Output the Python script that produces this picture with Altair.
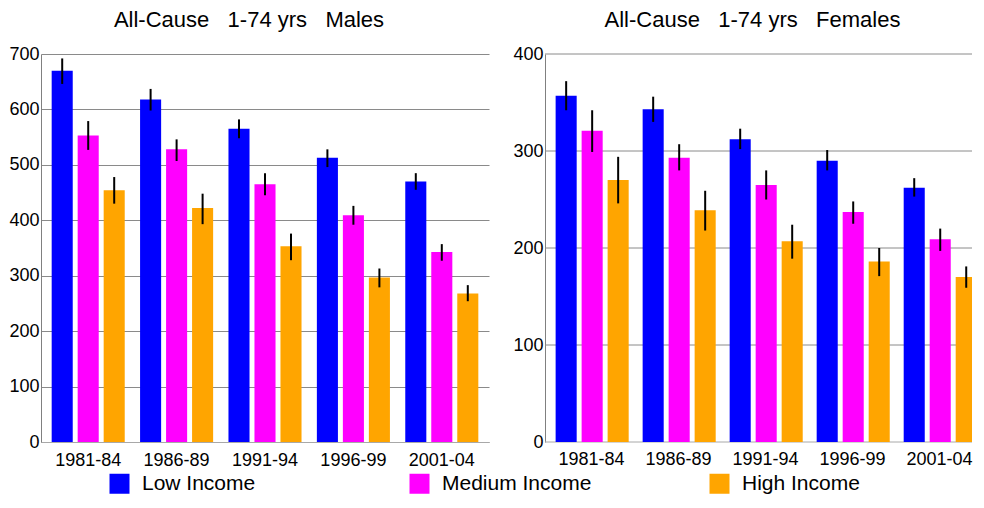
import altair as alt
import pandas as pd

periods = ["1981-84", "1986-89", "1991-94", "1996-99", "2001-04"]
incomes = ["Low Income", "Medium Income", "High Income"]
colors = ["#0000FF", "#FF00FF", "#FFA500"]

# Males (rate, lower CI, upper CI)
male_low = [670, 618, 565, 513, 470]
male_low_lo = [646, 598, 548, 496, 455]
male_low_hi = [692, 637, 582, 528, 485]
male_med = [553, 528, 465, 409, 343]
male_med_lo = [527, 507, 445, 392, 327]
male_med_hi = [579, 546, 485, 426, 357]
male_high = [454, 422, 353, 297, 268]
male_high_lo = [430, 393, 328, 279, 254]
male_high_hi = [478, 448, 376, 313, 283]

# Females (rate, lower CI, upper CI)
female_low = [357, 343, 312, 290, 262]
female_low_lo = [342, 330, 302, 280, 253]
female_low_hi = [372, 356, 323, 301, 272]
female_med = [321, 293, 265, 237, 209]
female_med_lo = [299, 280, 250, 225, 197]
female_med_hi = [342, 307, 280, 248, 220]
female_high = [270, 239, 207, 186, 170]
female_high_lo = [246, 218, 189, 171, 159]
female_high_hi = [294, 259, 224, 200, 181]

# y tick values
male_ticks = [0, 100, 200, 300, 400, 500, 600, 700]
female_ticks = [0, 100, 200, 300, 400]

FONT = "Liberation Sans"
SP = "\u00a0\u00a0\u00a0"
GRID = "#8a8a8a"
XDOMAIN = "#a8a8a8"


def make_df(series):
    rows = []
    for inc, (vals, los, his) in zip(incomes, series):
        for p, v, lo, hi in zip(periods, vals, los, his):
            rows.append({"period": p, "income": inc, "rate": v, "lo": lo, "hi": hi})
    return pd.DataFrame(rows)


males = make_df([(male_low, male_low_lo, male_low_hi),
                 (male_med, male_med_lo, male_med_hi),
                 (male_high, male_high_lo, male_high_hi)])
females = make_df([(female_low, female_low_lo, female_low_hi),
                   (female_med, female_med_lo, female_med_hi),
                   (female_high, female_high_lo, female_high_hi)])


def panel(df, title, ticks, width, xrange, title_dx, own_axes):
    ymax = ticks[-1]
    xscale = alt.Scale(paddingInner=0, paddingOuter=0.034, range=[0, xrange])
    if own_axes:
        xaxis = None
    else:
        xaxis = alt.Axis(labelAngle=0, ticks=False, labelPadding=9,
                         labelFontSize=18, labelFont=FONT, labelColor="#000",
                         domainColor=XDOMAIN, grid=False)

    def xenc():
        return alt.X("period:N", sort=periods, title=None, scale=xscale, axis=xaxis)

    xo = alt.XOffset("income:N", sort=incomes,
                     scale=alt.Scale(paddingInner=0.19, paddingOuter=0.295))
    yaxis = alt.Axis(values=ticks, ticks=False, title=None,
                     labelPadding=2, labelFontSize=18, labelFont=FONT,
                     labelColor="#000", domainColor="#808080",
                     grid=not own_axes, gridColor=GRID, gridWidth=1)
    yscale = alt.Scale(domain=[0, ymax], nice=False)
    y = alt.Y("rate:Q", title=None, scale=yscale, axis=yaxis)
    bars = alt.Chart(df).mark_bar(clip=True).encode(
        x=xenc(), xOffset=xo, y=y,
        color=alt.Color("income:N", sort=incomes,
                        scale=alt.Scale(domain=incomes, range=colors),
                        legend=alt.Legend(title=None, orient="none",
                                          direction="horizontal", columns=3,
                                          gridAlign="all", columnPadding=117,
                                          symbolType="square", symbolSize=400,
                                          symbolStrokeWidth=0, symbolOpacity=1,
                                          labelFontSize=21, labelFont=FONT,
                                          labelColor="#000", labelOffset=12,
                                          labelLimit=300, legendX=68,
                                          legendY=419, padding=0)),
    )
    errs = alt.Chart(df).mark_rule(color="black", strokeWidth=2, clip=True).encode(
        x=xenc(),
        xOffset=alt.XOffset("income:N", sort=incomes),
        y="lo:Q", y2="hi:Q",
    )
    layers = [bars, errs]
    if own_axes:
        gdf = pd.DataFrame({"v": ticks})
        grid = alt.Chart(gdf).mark_rule(strokeWidth=1).encode(
            y=alt.Y("v:Q", title=None, scale=yscale, axis=yaxis),
            x=alt.value(0), x2=alt.value("width"),
            color=alt.condition(alt.datum.v == 0, alt.value(XDOMAIN), alt.value(GRID)),
        )
        labels = alt.Chart(pd.DataFrame({"period": periods})).mark_text(
            baseline="top", align="center", dy=9, fontSize=18, font=FONT,
            color="#000",
        ).encode(x=xenc(), y=alt.value("height"), text="period:N")
        layers = [grid] + layers + [labels]
    return alt.layer(*layers).properties(
        width=width, height=388,
        title=alt.TitleParams(title, fontSize=22, font=FONT, dx=title_dx, dy=-2,
                              fontWeight="normal", color="#000", offset=11),
    )


left = panel(males, "All-Cause" + SP + "1-74 yrs" + SP + "Males",
             male_ticks, 448, 448, -16, False)
right = panel(females, "All-Cause" + SP + "1-74 yrs" + SP + "Females",
              female_ticks, 427, 441, -6, True)

chart = alt.hconcat(left, right, spacing=23).properties(
    padding={"left": 0, "top": 1, "right": 0, "bottom": 0}
).configure_view(stroke=None)

chart.save("out.html", embed_options={"renderer": "svg", "actions": False})
